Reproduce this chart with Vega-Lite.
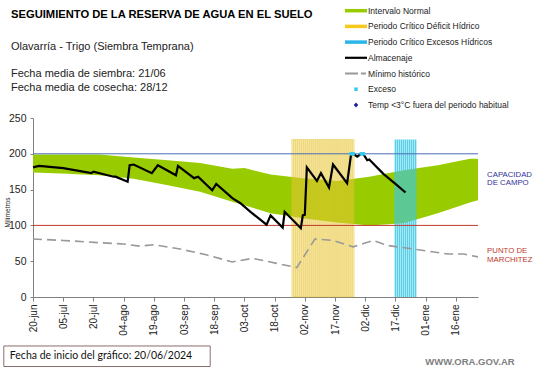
{
  "$schema": "https://vega.github.io/schema/vega-lite/v6.json",
  "width": 445,
  "height": 179,
  "autosize": {"type": "none"},
  "padding": {"left": 33, "top": 118, "right": 63, "bottom": 71},
  "background": "white",
  "config": {
    "view": {"stroke": null},
    "font": "Liberation Sans",
    "axis": {
      "labelOverlap": false,
      "labelFlush": false,
      "grid": false,
      "labelFont": "Liberation Sans",
      "labelColor": "#222222",
      "tickColor": "#808080",
      "domainColor": "#808080",
      "tickCount": 40
    },
    "axisX": {"labelAngle": -90, "labelFontSize": 10, "labelPadding": 3, "tickSize": 4},
    "axisY": {"labelFontSize": 10.5, "labelPadding": 4, "tickSize": 3}
  },
  "title": {
    "text": "SEGUIMIENTO DE LA RESERVA DE AGUA  EN EL SUELO",
    "subtitle": ["Olavarría  - Trigo (Siembra Temprana)", "\u200b", "Fecha media de siembra: 21/06", "Fecha media de cosecha: 28/12"],
    "anchor": "start",
    "frame": "group",
    "dx": -22,
    "dy": 107,
    "offset": 20,
    "font": "Liberation Sans",
    "fontSize": 11.2,
    "fontWeight": "bold",
    "color": "#000000",
    "subtitleFont": "Liberation Sans",
    "subtitleFontSize": 11,
    "subtitleColor": "#222222",
    "subtitlePadding": 21,
    "subtitleLineHeight": 13.5
  },
  "datasets": {
    "banda": [
      {"fecha": "2024-06-20", "inferior": 174, "superior": 199},
      {"fecha": "2024-07-07", "inferior": 172, "superior": 199},
      {"fecha": "2024-07-23", "inferior": 170, "superior": 199},
      {"fecha": "2024-08-09", "inferior": 165, "superior": 195},
      {"fecha": "2024-08-26", "inferior": 156, "superior": 191},
      {"fecha": "2024-09-11", "inferior": 147, "superior": 187},
      {"fecha": "2024-09-27", "inferior": 133, "superior": 179},
      {"fecha": "2024-10-03", "inferior": 128, "superior": 180},
      {"fecha": "2024-10-16", "inferior": 117, "superior": 171},
      {"fecha": "2024-11-01", "inferior": 110, "superior": 166},
      {"fecha": "2024-11-18", "inferior": 104, "superior": 162},
      {"fecha": "2024-12-04", "inferior": 100, "superior": 168},
      {"fecha": "2024-12-21", "inferior": 103, "superior": 177},
      {"fecha": "2025-01-07", "inferior": 117, "superior": 184},
      {"fecha": "2025-01-23", "inferior": 132, "superior": 193},
      {"fecha": "2025-01-27", "inferior": 135, "superior": 193}
    ],
    "deficit": [
      {"fecha": "2024-10-27"}, {"fecha": "2024-10-28"}, {"fecha": "2024-10-29"}, {"fecha": "2024-10-30"},
      {"fecha": "2024-10-31"}, {"fecha": "2024-11-01"}, {"fecha": "2024-11-02"}, {"fecha": "2024-11-03"},
      {"fecha": "2024-11-04"}, {"fecha": "2024-11-05"}, {"fecha": "2024-11-06"}, {"fecha": "2024-11-07"},
      {"fecha": "2024-11-08"}, {"fecha": "2024-11-09"}, {"fecha": "2024-11-10"}, {"fecha": "2024-11-11"},
      {"fecha": "2024-11-12"}, {"fecha": "2024-11-13"}, {"fecha": "2024-11-14"}, {"fecha": "2024-11-15"},
      {"fecha": "2024-11-16"}, {"fecha": "2024-11-17"}, {"fecha": "2024-11-18"}, {"fecha": "2024-11-19"},
      {"fecha": "2024-11-20"}, {"fecha": "2024-11-21"}, {"fecha": "2024-11-22"}, {"fecha": "2024-11-23"},
      {"fecha": "2024-11-24"}, {"fecha": "2024-11-25"}, {"fecha": "2024-11-26"}
    ],
    "excesos": [
      {"fecha": "2024-12-17"}, {"fecha": "2024-12-18"}, {"fecha": "2024-12-19"}, {"fecha": "2024-12-20"},
      {"fecha": "2024-12-21"}, {"fecha": "2024-12-22"}, {"fecha": "2024-12-23"}, {"fecha": "2024-12-24"},
      {"fecha": "2024-12-25"}, {"fecha": "2024-12-26"}, {"fecha": "2024-12-27"}
    ],
    "minimo": [
      {"fecha": "2024-06-20", "valor": 81},
      {"fecha": "2024-07-05", "valor": 79},
      {"fecha": "2024-07-22", "valor": 76},
      {"fecha": "2024-08-04", "valor": 74},
      {"fecha": "2024-08-12", "valor": 71},
      {"fecha": "2024-08-19", "valor": 73},
      {"fecha": "2024-09-01", "valor": 67},
      {"fecha": "2024-09-14", "valor": 59},
      {"fecha": "2024-09-27", "valor": 49},
      {"fecha": "2024-10-07", "valor": 54},
      {"fecha": "2024-10-19", "valor": 47},
      {"fecha": "2024-10-29", "valor": 41},
      {"fecha": "2024-11-07", "valor": 81},
      {"fecha": "2024-11-16", "valor": 79},
      {"fecha": "2024-11-26", "valor": 70},
      {"fecha": "2024-12-06", "valor": 79},
      {"fecha": "2024-12-13", "valor": 72},
      {"fecha": "2024-12-26", "valor": 67},
      {"fecha": "2025-01-12", "valor": 60},
      {"fecha": "2025-01-20", "valor": 60},
      {"fecha": "2025-01-27", "valor": 56}
    ],
    "almacenaje": [
      {"fecha": "2024-06-20", "valor": 181},
      {"fecha": "2024-06-23", "valor": 183},
      {"fecha": "2024-07-05", "valor": 180},
      {"fecha": "2024-07-19", "valor": 173},
      {"fecha": "2024-07-20", "valor": 175},
      {"fecha": "2024-07-30", "valor": 168},
      {"fecha": "2024-07-31", "valor": 168},
      {"fecha": "2024-08-06", "valor": 161},
      {"fecha": "2024-08-07", "valor": 184},
      {"fecha": "2024-08-09", "valor": 185},
      {"fecha": "2024-08-18", "valor": 173},
      {"fecha": "2024-08-21", "valor": 184},
      {"fecha": "2024-08-30", "valor": 170},
      {"fecha": "2024-08-31", "valor": 183},
      {"fecha": "2024-09-08", "valor": 166},
      {"fecha": "2024-09-10", "valor": 168},
      {"fecha": "2024-09-17", "valor": 149},
      {"fecha": "2024-09-19", "valor": 158},
      {"fecha": "2024-09-27", "valor": 138},
      {"fecha": "2024-10-01", "valor": 131},
      {"fecha": "2024-10-06", "valor": 119},
      {"fecha": "2024-10-14", "valor": 101},
      {"fecha": "2024-10-16", "valor": 114},
      {"fecha": "2024-10-22", "valor": 97},
      {"fecha": "2024-10-23", "valor": 119},
      {"fecha": "2024-10-31", "valor": 96},
      {"fecha": "2024-11-01", "valor": 114},
      {"fecha": "2024-11-02", "valor": 115},
      {"fecha": "2024-11-03", "valor": 181},
      {"fecha": "2024-11-08", "valor": 162},
      {"fecha": "2024-11-10", "valor": 173},
      {"fecha": "2024-11-14", "valor": 153},
      {"fecha": "2024-11-16", "valor": 185},
      {"fecha": "2024-11-23", "valor": 159},
      {"fecha": "2024-11-25", "valor": 200},
      {"fecha": "2024-11-26", "valor": 200},
      {"fecha": "2024-11-28", "valor": 196},
      {"fecha": "2024-11-30", "valor": 200},
      {"fecha": "2024-12-01", "valor": 200},
      {"fecha": "2024-12-03", "valor": 191},
      {"fecha": "2024-12-04", "valor": 192},
      {"fecha": "2024-12-11", "valor": 172},
      {"fecha": "2024-12-17", "valor": 158},
      {"fecha": "2024-12-22", "valor": 146}
    ],
    "exceso": [
      {"fecha": "2024-11-25", "valor": 200, "serie": "Exceso"},
      {"fecha": "2024-11-26", "valor": 200, "serie": "Exceso"},
      {"fecha": "2024-11-30", "valor": 200, "serie": "Exceso"},
      {"fecha": "2024-12-01", "valor": 200, "serie": "Exceso"}
    ],
    "nota": [{"nota": "anotación"}]
  },
  "layer": [
    {
      "data": {"name": "banda"},
      "mark": {"type": "area", "color": "#99CC00", "opacity": 1},
      "encoding": {
        "x": {
          "field": "fecha",
          "type": "temporal",
          "title": null,
          "scale": {
            "type": "utc",
            "padding": 0,
            "domain": [
              {"year": 2024, "month": 6, "date": 20, "utc": true},
              {"year": 2025, "month": 1, "date": 27, "utc": true}
            ]
          },
          "axis": {
            "values": [
              {"year": 2024, "month": 6, "date": 20, "utc": true},
              {"year": 2024, "month": 7, "date": 5, "utc": true},
              {"year": 2024, "month": 7, "date": 20, "utc": true},
              {"year": 2024, "month": 8, "date": 4, "utc": true},
              {"year": 2024, "month": 8, "date": 19, "utc": true},
              {"year": 2024, "month": 9, "date": 3, "utc": true},
              {"year": 2024, "month": 9, "date": 18, "utc": true},
              {"year": 2024, "month": 10, "date": 3, "utc": true},
              {"year": 2024, "month": 10, "date": 18, "utc": true},
              {"year": 2024, "month": 11, "date": 2, "utc": true},
              {"year": 2024, "month": 11, "date": 17, "utc": true},
              {"year": 2024, "month": 12, "date": 2, "utc": true},
              {"year": 2024, "month": 12, "date": 17, "utc": true},
              {"year": 2025, "month": 1, "date": 1, "utc": true},
              {"year": 2025, "month": 1, "date": 16, "utc": true}
            ],
            "tickCount": 40,
            "labelOverlap": false,
            "labelExpr": "utcFormat(datum.value, '%d') + '-' + ['ene','feb','mar','abr','may','jun','jul','ago','sep','oct','nov','dic'][utcmonth(datum.value)]"
          }
        },
        "y": {
          "field": "inferior",
          "type": "quantitative",
          "title": "Milímetros",
          "scale": {"domain": [0, 250], "nice": false, "zero": true, "padding": 0},
          "axis": {
            "values": [0, 50, 100, 150, 200, 250],
            "tickCount": 40,
            "labelOverlap": false,
            "title": "Milímetros",
            "titleFont": "Liberation Sans",
            "titleFontSize": 6.5,
            "titleFontWeight": "normal",
            "titleColor": "#222222",
            "titleX": -25.5,
            "titleY": 94,
            "titleAngle": -90,
            "titleAlign": "center",
            "titleBaseline": "middle"
          }
        },
        "y2": {"field": "superior"}
      }
    },
    {
      "data": {"name": "deficit"},
      "mark": {"type": "bar", "width": 2.0, "color": "#F0D048", "fillOpacity": 0.38, "stroke": "#E2BE2A", "strokeWidth": 0.6, "strokeOpacity": 0.6},
      "encoding": {
        "x": {"field": "fecha", "type": "temporal", "title": null},
        "y": {"datum": 220, "type": "quantitative"},
        "y2": {"datum": 0}
      }
    },
    {
      "data": {"name": "excesos"},
      "mark": {"type": "bar", "width": 1.6, "color": "#3CC8E6", "opacity": 0.85},
      "encoding": {
        "x": {"field": "fecha", "type": "temporal", "title": null},
        "y": {"datum": 220, "type": "quantitative"},
        "y2": {"datum": 0}
      }
    },
    {
      "data": {"name": "nota"},
      "mark": {"type": "rule", "color": "#4A6EB8", "strokeWidth": 1},
      "encoding": {"y": {"datum": 200, "type": "quantitative"}}
    },
    {
      "data": {"name": "nota"},
      "mark": {"type": "rule", "color": "#C0392B", "strokeWidth": 1},
      "encoding": {"y": {"datum": 100, "type": "quantitative"}}
    },
    {
      "data": {"name": "minimo"},
      "mark": {"type": "line", "color": "#999999", "strokeWidth": 1.6, "strokeDash": [9, 5]},
      "encoding": {
        "x": {"field": "fecha", "type": "temporal", "title": null},
        "y": {"field": "valor", "type": "quantitative", "title": "Milímetros"}
      }
    },
    {
      "data": {"name": "almacenaje"},
      "mark": {"type": "line", "color": "#000000", "strokeWidth": 2.2},
      "encoding": {
        "x": {"field": "fecha", "type": "temporal", "title": null},
        "y": {"field": "valor", "type": "quantitative", "title": "Milímetros"}
      }
    },
    {
      "data": {"name": "exceso"},
      "mark": {"type": "point", "filled": true, "size": 100, "opacity": 1},
      "encoding": {
        "x": {"field": "fecha", "type": "temporal", "title": null},
        "y": {"field": "valor", "type": "quantitative", "title": "Milímetros"},
        "color": {
          "field": "serie",
          "type": "nominal",
          "scale": {
            "domain": ["Intervalo Normal", "Periodo Crítico Déficit Hídrico", "Periodo Crítico Excesos Hídricos", "Almacenaje", "Mínimo histórico", "Exceso", "Temp <3°C fuera del periodo habitual"],
            "range": ["#99CC00", "#F7C81E", "#2BB5E8", "#000000", "#999999", "#33CCEE", "#1F1FA0"]
          },
          "legend": {
            "orient": "none",
            "legendX": 318,
            "legendY": -112.3,
            "title": null,
            "direction": "vertical",
            "symbolSize": 100,
            "symbolStrokeWidth": 0,
            "symbolOpacity": 1,
            "labelFont": "Liberation Sans",
            "labelFontSize": 8.5,
            "labelColor": "#222222",
            "labelOffset": 7,
            "labelLimit": 300,
            "rowPadding": 5.7,
            "padding": 0
          }
        },
        "shape": {
          "field": "serie",
          "type": "nominal",
          "scale": {
            "domain": ["Intervalo Normal", "Periodo Crítico Déficit Hídrico", "Periodo Crítico Excesos Hídricos", "Almacenaje", "Mínimo histórico", "Exceso", "Temp <3°C fuera del periodo habitual"],
            "range": [
              "M-2.2,-0.35H2.2V0.35H-2.2Z",
              "M-2.2,-0.35H2.2V0.35H-2.2Z",
              "M-2.2,-0.35H2.2V0.35H-2.2Z",
              "M-2.2,-0.22H2.2V0.22H-2.2Z",
              "M-2.2,-0.18H0.4V0.18H-2.2Z M1,-0.18H2V0.18H1Z",
              "M-0.35,-0.35H0.35V0.35H-0.35Z",
              "M0,-0.5L0.45,0L0,0.5L-0.45,0Z"
            ]
          }
        }
      }
    },
    {
      "data": {"name": "nota"},
      "mark": {"type": "text", "align": "left", "baseline": "middle", "lineBreak": "\n", "lineHeight": 8.8, "font": "Liberation Sans", "fontSize": 7.8, "color": "#333399"},
      "encoding": {
        "x": {"datum": {"year": 2025, "month": 1, "date": 31, "hours": 12, "utc": true}, "type": "temporal"},
        "y": {"datum": 171, "type": "quantitative"},
        "text": {"value": "CAPACIDAD\nDE  CAMPO"}
      }
    },
    {
      "data": {"name": "nota"},
      "mark": {"type": "text", "align": "left", "baseline": "middle", "lineBreak": "\n", "lineHeight": 8.8, "font": "Liberation Sans", "fontSize": 7.8, "color": "#C0392B"},
      "encoding": {
        "x": {"datum": {"year": 2025, "month": 1, "date": 31, "hours": 12, "utc": true}, "type": "temporal"},
        "y": {"datum": 64, "type": "quantitative"},
        "text": {"value": "PUNTO   DE\nMARCHITEZ"}
      }
    },
    {
      "data": {"name": "nota"},
      "mark": {"type": "rect", "fill": null, "stroke": "#8C6D6D", "strokeWidth": 1},
      "encoding": {
        "x": {"datum": {"year": 2024, "month": 6, "date": 5, "hours": 12, "utc": true}, "type": "temporal"},
        "x2": {"datum": {"year": 2024, "month": 9, "date": 16, "utc": true}},
        "y": {"datum": -68.4, "type": "quantitative"},
        "y2": {"datum": -97.1}
      }
    },
    {
      "data": {"name": "nota"},
      "mark": {"type": "text", "align": "left", "baseline": "middle", "font": "Lato", "fontSize": 10.5, "color": "#111111"},
      "encoding": {
        "x": {"datum": {"year": 2024, "month": 6, "date": 8, "hours": 12, "utc": true}, "type": "temporal"},
        "y": {"datum": -83.1, "type": "quantitative"},
        "text": {"value": "Fecha de inicio del gráfico:   20/06/2024"}
      }
    },
    {
      "data": {"name": "nota"},
      "mark": {"type": "text", "align": "center", "baseline": "middle", "font": "Liberation Sans", "fontSize": 9.5, "fontWeight": "bold", "color": "#808080"},
      "encoding": {
        "x": {"datum": {"year": 2025, "month": 1, "date": 23, "utc": true}, "type": "temporal"},
        "y": {"datum": -90.8, "type": "quantitative"},
        "text": {"value": "WWW.ORA.GOV.AR"}
      }
    }
  ]
}
